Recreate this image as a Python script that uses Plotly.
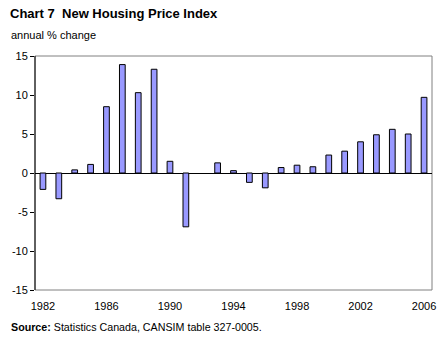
import plotly.graph_objects as go

years = list(range(1982, 2007))
values = [-2.1, -3.3, 0.4, 1.1, 8.5, 13.9, 10.3, 13.3, 1.5, -6.9, 0.0, 1.3, 0.3,
          -1.2, -1.9, 0.7, 1.0, 0.8, 2.3, 2.8, 4.0, 4.9, 5.6, 5.0, 9.7]
x_ticks = [1982, 1986, 1990, 1994, 1998, 2002, 2006]
y_ticks = [-15, -10, -5, 0, 5, 10, 15]

FONT = "Liberation Sans, Arial, sans-serif"

fig = go.Figure()
fig.add_trace(go.Bar(
    x=years, y=values, width=0.36,
    marker=dict(color="#9999FF",
                line=dict(color="black", width=[0 if v == 0 else 1 for v in values])),
))

L, R, T, B = 32, 15, 56, 52
W, H = 448, 342
pw, ph = W - L - R, H - T - B

def px(xpix):
    return (xpix - L) / pw

def py(ypix):
    return (H - B - ypix) / ph

fig.update_layout(
    width=W, height=H,
    margin=dict(l=L, r=R, t=T, b=B, pad=0),
    paper_bgcolor="white", plot_bgcolor="white",
    showlegend=False,
    font=dict(family=FONT, size=11, color="black"),
    xaxis=dict(
        range=[1981.5, 2006.5], tickvals=x_ticks, ticktext=[str(v) for v in x_ticks],
        showgrid=False, zeroline=False, showline=False, ticks="",
        tickfont=dict(size=11), ticklabelstandoff=8,
    ),
    yaxis=dict(
        range=[-15, 15], tickvals=y_ticks, ticktext=[str(v) for v in y_ticks],
        showgrid=False, zeroline=True, zerolinecolor="black", zerolinewidth=1,
        showline=False, ticks="outside", ticklen=4, tickcolor="black",
        tickfont=dict(size=11),
    ),
    shapes=[
        dict(type="rect", xref="paper", yref="paper", x0=0, x1=1, y0=0, y1=1,
             line=dict(color="#808080", width=1), layer="below"),
        dict(type="line", xref="paper", yref="paper", x0=0, x1=0, y0=0, y1=1,
             line=dict(color="black", width=1)),
    ],
    annotations=[
        dict(text="<b>Chart 7  New Housing Price Index</b>", xref="paper", yref="paper",
             x=px(5), y=py(14), xanchor="left", yanchor="middle", showarrow=False,
             font=dict(size=13, family=FONT)),
        dict(text="annual % change", xref="paper", yref="paper",
             x=px(6), y=py(35), xanchor="left", yanchor="middle", showarrow=False,
             font=dict(size=11, family=FONT)),
        dict(text="<b>Source:</b> Statistics Canada, CANSIM table 327-0005.", xref="paper", yref="paper",
             x=px(6), y=py(327), xanchor="left", yanchor="middle", showarrow=False,
             font=dict(size=10.7, family=FONT)),
    ],
)

fig.write_html("out.html")
